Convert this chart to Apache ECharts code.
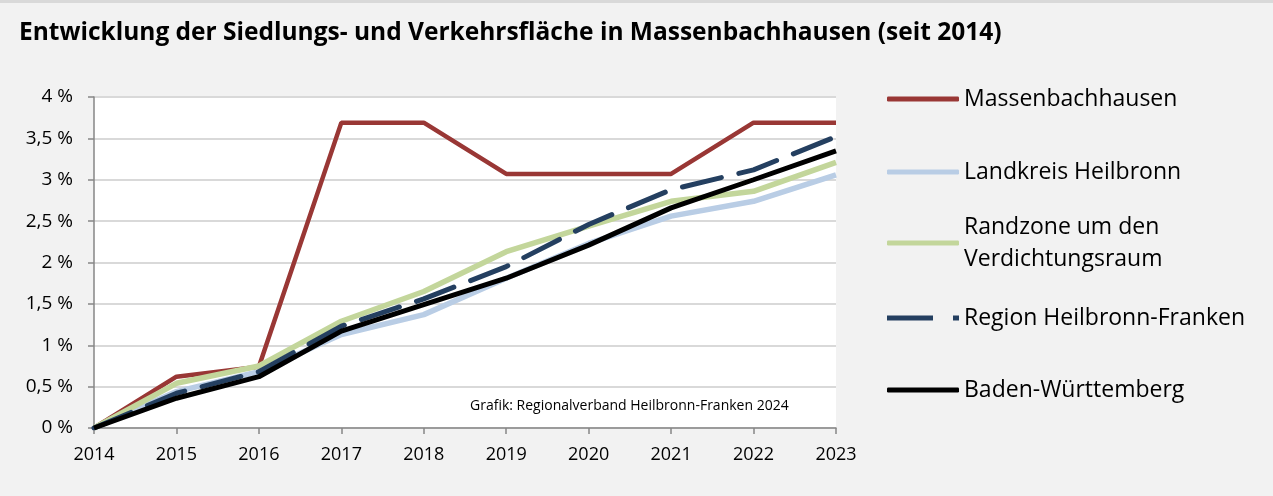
<!DOCTYPE html>
<html>
<head>
<meta charset="utf-8">
<script src="https://cdn.jsdelivr.net/npm/echarts@6/dist/echarts.min.js"></script>
<style>
  html, body { margin: 0; padding: 0; background: #f2f2f2; }
  #chart { width: 1273px; height: 496px; }
</style>
</head>
<body>
<div id="chart"></div>
<script>
// Jahre (Kategorien der x-Achse)
const years = ['2014', '2015', '2016', '2017', '2018', '2019', '2020', '2021', '2022', '2023'];

// Zunahme der Siedlungs- und Verkehrsfläche gegenüber 2014 in %
const massenbachhausen = [0, 0.62, 0.74, 3.69, 3.69, 3.07, 3.07, 3.07, 3.69, 3.69];
const landkreisHeilbronn = [0, 0.44, 0.68, 1.13, 1.37, 1.81, 2.23, 2.56, 2.74, 3.06];
const randzone = [0, 0.54, 0.75, 1.29, 1.65, 2.13, 2.44, 2.74, 2.86, 3.21];
const regionHNF = [0, 0.42, 0.68, 1.23, 1.56, 1.95, 2.46, 2.88, 3.12, 3.52];
const badenWuerttemberg = [0, 0.36, 0.62, 1.17, 1.49, 1.81, 2.21, 2.66, 3.00, 3.35];

const seriesNames = [
  'Massenbachhausen',
  'Landkreis Heilbronn',
  'Randzone um den\nVerdichtungsraum',
  'Region Heilbronn-Franken',
  'Baden-Württemberg'
];

const FONT = '"Open Sans", "Liberation Sans", sans-serif';
const LEGEND_LH = 32;

const chart = echarts.init(document.getElementById('chart'), null, { renderer: 'canvas' });

// one legend block per series so each entry sits at its own height
function legendFor(name, centerY, opts) {
  opts = opts || {};
  const twoLines = name.indexOf('\n') >= 0;
  return {
    data: [name],
    left: 887,
    top: twoLines ? centerY - 1.5 * LEGEND_LH : centerY - LEGEND_LH / 2,
    padding: 0,
    itemWidth: 72,
    itemHeight: 5,
    itemGap: 0,
    icon: opts.icon || 'roundRect',
    selectedMode: false,
    textStyle: {
      fontFamily: FONT, fontSize: 23, color: '#000', lineHeight: LEGEND_LH,
      padding: twoLines ? [LEGEND_LH, 0, 0, 0] : 0
    }
  };
}

chart.setOption({
  backgroundColor: '#f2f2f2',
  animation: false,
  title: [
    {
      text: 'Entwicklung der Siedlungs- und Verkehrsfläche in Massenbachhausen (seit 2014)',
      left: 14,
      top: 16,
      textStyle: { fontFamily: FONT, fontWeight: 'bold', fontSize: 24.5, color: '#000' }
    },
    {
      text: 'Grafik: Regionalverband Heilbronn-Franken 2024',
      left: 465,
      top: 394,
      textStyle: { fontFamily: FONT, fontWeight: 'normal', fontSize: 14, color: '#000' }
    }
  ],
  graphic: [
    { type: 'rect', left: 0, top: 0, shape: { width: 1273, height: 3 }, style: { fill: '#d9d9d9' }, silent: true }
  ],
  legend: [
    legendFor(seriesNames[0], 99),
    legendFor(seriesNames[1], 172),
    legendFor(seriesNames[2], 243),
    legendFor(seriesNames[3], 318, { icon: 'path://M0,0H46V5H0Z M66,0H72V5H66Z' }),
    legendFor(seriesNames[4], 390)
  ],
  grid: {
    left: 94,
    right: 437,
    top: 97,
    bottom: 68,
    show: true,
    backgroundColor: '#ffffff',
    borderWidth: 0
  },
  xAxis: {
    type: 'category',
    data: years,
    boundaryGap: false,
    axisLine: { lineStyle: { color: '#868686', width: 1.5 } },
    axisTick: { show: true, length: 6, alignWithLabel: true, lineStyle: { color: '#868686', width: 1.5 } },
    axisLabel: { fontFamily: FONT, fontSize: 18, color: '#000', margin: 18 },
    splitLine: { show: false }
  },
  yAxis: {
    type: 'value',
    min: 0,
    max: 4,
    interval: 0.5,
    axisLine: { show: true, lineStyle: { color: '#868686', width: 1.5 } },
    axisTick: { show: true, length: 6, inside: false, lineStyle: { color: '#868686', width: 1.5 } },
    axisLabel: {
      fontFamily: FONT, fontSize: 19, color: '#000', margin: 21,
      formatter: v => String(v).replace('.', ',') + ' %'
    },
    splitLine: { show: true, lineStyle: { color: '#d9d9d9', width: 2 } }
  },
  series: [
    {
      name: seriesNames[0], type: 'line', data: massenbachhausen,
      symbol: 'none', z: 2,
      lineStyle: { color: '#993735', width: 4.5 }, itemStyle: { color: '#993735' }
    },
    {
      name: seriesNames[1], type: 'line', data: landkreisHeilbronn,
      symbol: 'none', z: 3,
      lineStyle: { color: '#b9cde5', width: 5.5 }, itemStyle: { color: '#b9cde5' }
    },
    {
      name: seriesNames[2], type: 'line', data: randzone,
      symbol: 'none', z: 4,
      lineStyle: { color: '#c3d69b', width: 5.5 }, itemStyle: { color: '#c3d69b' }
    },
    {
      name: seriesNames[3], type: 'line', data: regionHNF,
      symbol: 'none', z: 5,
      lineStyle: { color: '#243f60', width: 5, type: [40, 18], cap: 'round' }, itemStyle: { color: '#243f60' }
    },
    {
      name: seriesNames[4], type: 'line', data: badenWuerttemberg,
      symbol: 'none', z: 6,
      lineStyle: { color: '#000000', width: 5 }, itemStyle: { color: '#000000' }
    }
  ]
});
</script>
</body>
</html>
